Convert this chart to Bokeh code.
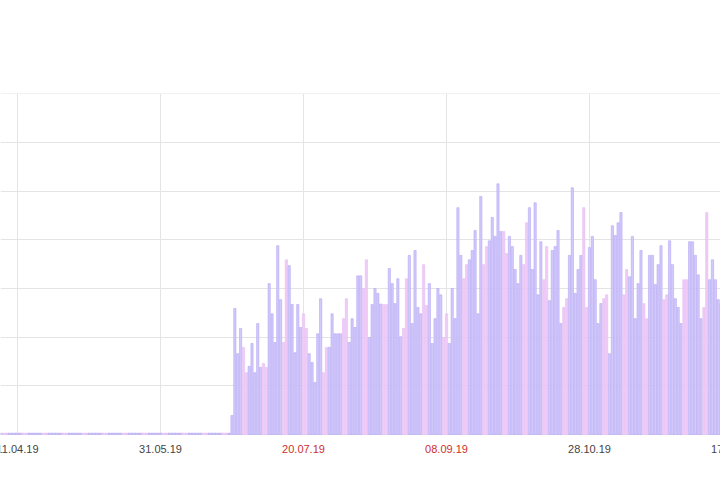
import pandas as pd
from bokeh.plotting import figure
from bokeh.models import ColumnDataSource, FixedTicker, Range1d
from bokeh.core.properties import value
from bokeh.embed import file_html
from bokeh.resources import INLINE

start_date = "2019-04-05"
idle_days = 81
idle_value = 3
values = [
    39, 259, 166, 218, 179, 127, 140, 187, 127, 228, 138, 146, 138, 310, 248, 189,
    388, 277, 189, 359, 347, 267, 168, 267, 220, 248, 218, 166,
    148, 107, 207, 279, 127, 179, 179, 248, 207, 207, 207, 238, 279, 189, 238, 220,
    326, 326, 300, 359, 199, 267, 300, 290, 268, 267, 267, 341,
    310, 269, 320, 201, 218, 320, 368, 228, 378, 261, 248, 349, 265, 310, 187, 238,
    300, 287, 199, 248, 187, 300, 238, 466, 368, 320, 349, 359, 378, 419,
    248, 489, 349, 386, 398, 446, 407, 515, 417, 417, 372, 407, 386, 339, 310, 368,
    349, 435, 466, 339, 476, 287, 396, 318, 386, 275, 378, 386, 419,
    228, 261, 279, 368, 507, 290, 339, 368, 466, 261, 384, 407, 318, 228, 269, 279,
    287, 166, 429, 409, 435, 456, 287, 339, 324, 407, 238, 310, 378,
    269, 238, 368, 368, 308, 349, 388, 277, 287, 398, 349, 279, 261, 228, 318, 318,
    396, 396, 368, 328, 238, 261, 456, 318, 359, 318, 277, 269,
]
tick_dates = ["2019-04-11", "2019-05-31", "2019-07-20", "2019-09-08", "2019-10-28", "2019-12-17"]
tick_labels = ["11.04.19", "31.05.19", "20.07.19", "08.09.19", "28.10.19", "17.12.19"]
y_ticks = [0, 100, 200, 300, 400, 500, 600, 700]
y_max = 700

DAY = 86400000
all_vals = [idle_value] * idle_days + values
dates = pd.date_range(start_date, periods=len(all_vals), freq="D")
colors = ["#f0cbf7" if d.dayofweek >= 5 else "#d2c9fb" for d in dates]
lines = ["#e3b8f2" if d.dayofweek >= 5 else "#ae9ff3" for d in dates]
src = ColumnDataSource(dict(x=dates, top=all_vals, color=colors, line=lines))

tick_ts = [pd.Timestamp(d) for d in tick_dates]
tick_x = [t.value // 10**6 for t in tick_ts]
tick_col = ["#d0302b" if t.dayofweek >= 5 else "#444444" for t in tick_ts]
tsrc = ColumnDataSource(dict(x=tick_x, y=[-29] * len(tick_x), text=tick_labels, color=tick_col,
                             y0=[0] * len(tick_x), y1=[y_max] * len(tick_x)))

px_per_day = 2.86
x0 = tick_x[0] - 17 / px_per_day * DAY
x1 = x0 + 720 / px_per_day * DAY
units_per_px = y_max / 341
y0 = -46 * units_per_px

p = figure(width=720, height=480, output_backend="svg", toolbar_location=None,
           x_axis_type="datetime", x_range=Range1d(x0, x1), y_range=Range1d(y0, y_max + 0.5),
           min_border_left=0, min_border_right=0, min_border_top=93, min_border_bottom=0)
p.xaxis.visible = False
p.yaxis.visible = False
p.xgrid.visible = False
p.ygrid.ticker = FixedTicker(ticks=y_ticks)
p.ygrid.grid_line_color = "#e4e4e4"
p.outline_line_color = None

p.segment(x0="x", y0="y0", x1="x", y1="y1", source=tsrc, line_color="#e4e4e4", line_width=1)
p.vbar(x="x", top="top", bottom=0, width=0.8 * DAY, source=src,
       fill_color="color", line_color="line", line_width=0.5)
p.text(x="x", y="y", text="text", source=tsrc, text_color="color",
       text_align="center", text_baseline="middle",
       text_font=value("Liberation Sans"), text_font_size="11px")

open("out.html", "w").write(file_html(p, INLINE))
